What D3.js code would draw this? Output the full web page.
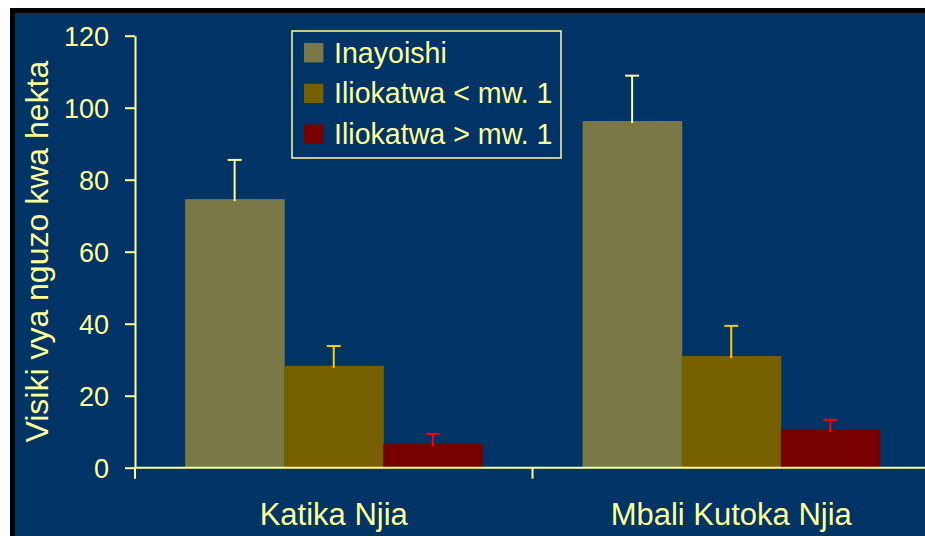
<!DOCTYPE html>
<html>
<head>
<meta charset="utf-8">
<script src="https://cdn.jsdelivr.net/npm/d3@7"></script>
<style>
  html, body { margin: 0; padding: 0; background: #ffffff; }
  svg { display: block; }
  text { font-family: "Liberation Sans", Arial, sans-serif; }
</style>
</head>
<body>
<svg id="chart" width="925" height="536"></svg>
<script>
// ---- data ----
const categories = ["Katika Njia", "Mbali Kutoka Njia"];
const seriesNames = ["Inayoishi", "Iliokatwa < mw. 1", "Iliokatwa > mw. 1"];
const inayoishi = [74.6, 96.3];
const iliokatwaChini = [28.3, 31.0];
const iliokatwaJuu = [6.6, 10.5];
const errInayoishi = [10.9, 12.6];
const errIliokatwaChini = [5.5, 8.4];
const errIliokatwaJuu = [2.8, 2.8];
const yTicks = [0, 20, 40, 60, 80, 100, 120];
const yTitle = "Visiki vya nguzo kwa hekta";

const seriesValues = [inayoishi, iliokatwaChini, iliokatwaJuu];
const seriesErrors = [errInayoishi, errIliokatwaChini, errIliokatwaJuu];
const barColors = ["#7a7846", "#776000", "#770000"];
const errColors = ["#ffff99", "#ffcc00", "#ff0000"];
const fg = "#ffff99";
const bg = "#003366";

const svg = d3.select("#chart");

// frame
svg.append("rect").attr("x", 0).attr("y", 0).attr("width", 925).attr("height", 536).attr("fill", "#ffffff");
svg.append("rect").attr("x", 10).attr("y", 8).attr("width", 930).attr("height", 540).attr("fill", "#000000");
svg.append("rect").attr("x", 15).attr("y", 13).attr("width", 930).attr("height", 540).attr("fill", bg);

const x0Left = 135, step = 397.5;
const yBase = 467.7, yTop = 35.7;

const x0 = d3.scaleBand().domain(categories).range([x0Left, x0Left + step * categories.length]).padding(0);
const bw = x0.bandwidth();
const x1 = d3.scaleBand().domain(seriesNames).range([bw * 0.126, bw * 0.874]).padding(0);
const y = d3.scaleLinear().domain([0, 120]).range([yBase, yTop]);

// bars
const data = [];
categories.forEach((c, ci) => {
  seriesNames.forEach((s, si) => {
    data.push({ c, s, si, v: seriesValues[si][ci], e: seriesErrors[si][ci] });
  });
});

const g = svg.append("g");
g.selectAll("rect.bar").data(data).join("rect")
  .attr("class", "bar")
  .attr("x", d => x0(d.c) + x1(d.s))
  .attr("width", x1.bandwidth() + 0.5)
  .attr("y", d => y(d.v))
  .attr("height", d => y(0) - y(d.v))
  .attr("fill", d => barColors[d.si]);

// error bars
const eg = g.selectAll("g.err").data(data).join("g").attr("class", "err");
eg.append("line")
  .attr("x1", d => x0(d.c) + x1(d.s) + x1.bandwidth() / 2)
  .attr("x2", d => x0(d.c) + x1(d.s) + x1.bandwidth() / 2)
  .attr("y1", d => y(d.v) + 2)
  .attr("y2", d => y(d.v + d.e))
  .attr("stroke", d => errColors[d.si]).attr("stroke-width", 2);
eg.append("line")
  .attr("x1", d => x0(d.c) + x1(d.s) + x1.bandwidth() / 2 - 7)
  .attr("x2", d => x0(d.c) + x1(d.s) + x1.bandwidth() / 2 + 7)
  .attr("y1", d => y(d.v + d.e))
  .attr("y2", d => y(d.v + d.e))
  .attr("stroke", d => errColors[d.si]).attr("stroke-width", 2);

// y axis
const yAxis = svg.append("g").attr("transform", `translate(${x0Left},0)`)
  .call(d3.axisLeft(y).tickValues(yTicks).tickSize(10).tickSizeOuter(0).tickPadding(16));
yAxis.select(".domain").attr("stroke", fg).attr("stroke-width", 2);
yAxis.selectAll(".tick line").attr("stroke", fg).attr("stroke-width", 2);
yAxis.selectAll(".tick text").attr("fill", fg).attr("font-size", 27)
  .attr("font-family", "'Liberation Sans', Arial, sans-serif").attr("dy", "0.35em");

// x axis
const xAxis = svg.append("g").attr("transform", `translate(0,${yBase})`)
  .call(d3.axisBottom(x0).tickSize(0).tickSizeOuter(0));
xAxis.select(".domain").remove();
xAxis.append("line").attr("x1", x0Left).attr("x2", 925).attr("y1", 0).attr("y2", 0)
  .attr("stroke", fg).attr("stroke-width", 2);
xAxis.selectAll(".tick text").attr("fill", fg).attr("font-size", 31)
  .attr("font-family", "'Liberation Sans', Arial, sans-serif")
  .attr("dy", null).attr("y", 57);
// category boundary ticks
xAxis.selectAll("line.bound").data(categories).join("line").attr("class", "bound")
  .attr("x1", d => x0(d)).attr("x2", d => x0(d))
  .attr("y1", 0).attr("y2", 11)
  .attr("stroke", fg).attr("stroke-width", 2);

// y title
svg.append("text")
  .attr("transform", `translate(48,${(yBase + yTop) / 2}) rotate(-90)`)
  .attr("text-anchor", "middle")
  .attr("fill", fg).attr("font-size", 32)
  .text(yTitle);

// legend
const lg = svg.append("g");
lg.append("rect").attr("x", 292).attr("y", 31).attr("width", 269).attr("height", 127)
  .attr("fill", "none").attr("stroke", fg).attr("stroke-width", 1.5);
const rows = lg.selectAll("g.row").data(seriesNames).join("g").attr("class", "row")
  .attr("transform", (d, i) => `translate(0,${52.7 + i * 40.7})`);
rows.append("rect").attr("x", 304).attr("y", -9.7).attr("width", 19.4).attr("height", 19.4)
  .attr("fill", (d, i) => barColors[i]);
rows.append("text").attr("x", 334).attr("y", 10).attr("fill", fg).attr("font-size", 28.6).text(d => d);
</script>
</body>
</html>
